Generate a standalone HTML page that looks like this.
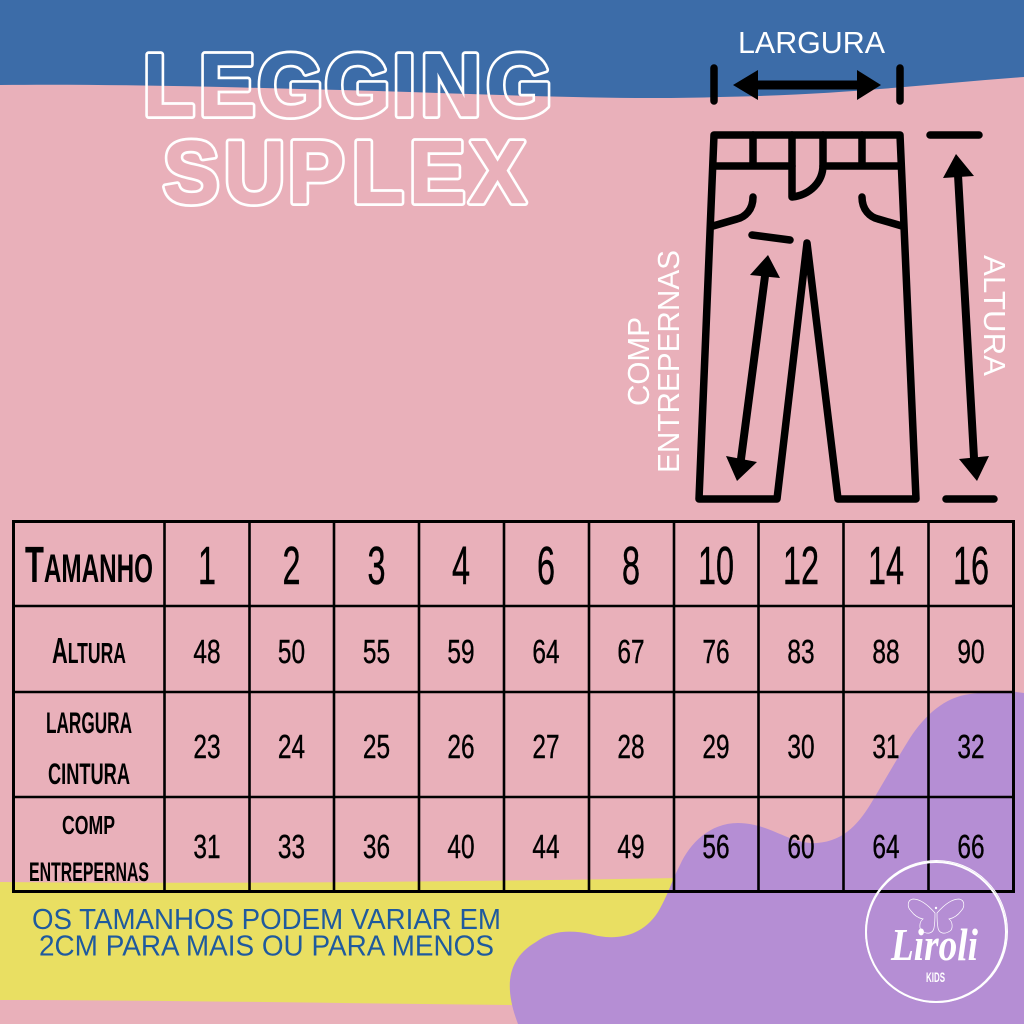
<!DOCTYPE html>
<html><head><meta charset="utf-8"><style>
html,body{margin:0;padding:0;background:#E9B0BA}
svg{display:block}
text{font-family:"Liberation Sans",sans-serif}
.h{font-size:54px;fill:#000;text-anchor:middle;stroke:#000;stroke-width:.5px}
.n{font-size:33px;fill:#000;text-anchor:middle;stroke:#000;stroke-width:.4px}
.l{font-weight:700;fill:#000}
.w{fill:#fff}
</style></head><body>
<svg width="1024" height="1024" viewBox="0 0 1024 1024" xmlns="http://www.w3.org/2000/svg">
<defs>
<mask id="ring" maskUnits="userSpaceOnUse" x="0" y="0" width="1024" height="300">
<g font-weight="700" font-size="88" stroke-linejoin="round" style="font-family:'Liberation Sans',sans-serif">
<text transform="scale(.96,1)" x="149 207.300 268.200 338 408.900 438 506.800" y="115.500" fill="#fff" stroke="#fff" stroke-width="7">LEGGING</text>
<text transform="scale(.96,1)" x="169.800 233.300 300 366.700 426 489" y="202.500" fill="#fff" stroke="#fff" stroke-width="7">SUPLEX</text>
<text transform="scale(.96,1)" x="149 207.300 268.200 338 408.900 438 506.800" y="115.500" fill="#000" stroke="#000" stroke-width="1.600">LEGGING</text>
<text transform="scale(.96,1)" x="169.800 233.300 300 366.700 426 489" y="202.500" fill="#000" stroke="#000" stroke-width="1.600">SUPLEX</text>
</g>
</mask>
</defs>
<rect width="1024" height="1024" fill="#E9B0BA"/>
<path d="M0 0H1024V77C930 84 840 95 720 97C600 101 450 92 300 89C190 86 90 84 0 85Z" fill="#3C6CA8"/>
<path d="M0 882C200 884 450 882 680 878L640 1006C420 1005 200 1000 0 1000Z" fill="#E9DF62"/>
<path d="M518 1024C505 990 505 960 536 942C552 930 572 930 590 934C610 940 640 940 658 912C668 895 672 880 680 865C690 843 710 823 738 823C770 823 790 845 817 843C845 841 860 822 873 800C885 780 895 762 910 738C925 715 945 697 970 694C990 691 1005 690 1024 693V1024Z" fill="#B58ED4"/>

<rect x="0" y="0" width="1024" height="300" fill="#fff" mask="url(#ring)"/>

<!-- pants -->
<g fill="none" stroke="#000" stroke-width="7.500" stroke-linecap="round" stroke-linejoin="round">
<path d="M714 135H900L916 499H838L807 243L777 499H699Z"/>
<path d="M716 166H792M823 166H898M753 135V166M862 135V166"/>
<path d="M792 135V197C810 195 823 182 823 165V135"/>
<path d="M753 197C753 210 745 217 737 219L713 226"/>
<path d="M862 197C862 210 870 217 878 219L902 226"/>
<path d="M752 235L790 240"/>
<path d="M714 68V101M900 68V101"/>
<path d="M930 135H979M946 499H994"/>
<path d="M958 175L974 458" stroke-width="8"/>
<path d="M765 276L741 459" stroke-width="8"/>
<path d="M757 85H858" stroke-width="9" stroke-linecap="butt"/>
</g>
<path d="M733 85L758 70V100ZM881 85L857 70V100ZM956 154L943 178L974 176ZM977 481L959 459L989 456ZM768 255L750 275L780 278ZM737 481L726 456L757 462Z" fill="#000"/>

<text class="w" x="738" y="53" font-size="31" textLength="147" lengthAdjust="spacingAndGlyphs">LARGURA</text>
<text class="w" transform="translate(649,406) rotate(-90)" font-size="31" textLength="89" lengthAdjust="spacingAndGlyphs">COMP</text>
<text class="w" transform="translate(679,473) rotate(-90)" font-size="31" textLength="223" lengthAdjust="spacingAndGlyphs">ENTREPERNAS</text>
<text class="w" transform="translate(984,255) rotate(90)" font-size="31" textLength="121" lengthAdjust="spacingAndGlyphs">ALTURA</text>

<!-- table -->
<g fill="none" stroke="#000">
<rect x="13.500" y="521.500" width="1000" height="370" stroke-width="3"/>
<path stroke-width="2.600" d="M164.500 521V891M249.500 521V891M334 521V891M419 521V891M504 521V891M589 521V891M674 521V891M758.500 521V891M843.500 521V891M928.500 521V891M13 606H1013M13 692H1013M13 797H1013"/>
</g>

<text class="l" x="25" y="582" font-size="40" textLength="128" lengthAdjust="spacingAndGlyphs"><tspan font-size="51">T</tspan>AMANHO</text>
<text class="l" x="52" y="663" font-size="29" textLength="74" lengthAdjust="spacingAndGlyphs"><tspan font-size="36">A</tspan>LTURA</text>
<text class="l" x="46" y="733" font-size="30" textLength="86" lengthAdjust="spacingAndGlyphs">LARGURA</text>
<text class="l" x="48" y="784" font-size="30" textLength="82" lengthAdjust="spacingAndGlyphs">CINTURA</text>
<text class="l" x="62" y="834" font-size="26" textLength="53" lengthAdjust="spacingAndGlyphs">COMP</text>
<text class="l" x="29" y="881" font-size="27" textLength="120" lengthAdjust="spacingAndGlyphs">ENTREPERNAS</text>

<g class="hdr">
<text class="h" transform="translate(207,584) scale(.6,1)">1</text>
<text class="h" transform="translate(291.500,584) scale(.6,1)">2</text>
<text class="h" transform="translate(376.500,584) scale(.6,1)">3</text>
<text class="h" transform="translate(461,584) scale(.6,1)">4</text>
<text class="h" transform="translate(546,584) scale(.6,1)">6</text>
<text class="h" transform="translate(631,584) scale(.6,1)">8</text>
<text class="h" transform="translate(716,584) scale(.6,1)">10</text>
<text class="h" transform="translate(801,584) scale(.6,1)">12</text>
<text class="h" transform="translate(886,584) scale(.6,1)">14</text>
<text class="h" transform="translate(971,584) scale(.6,1)">16</text>
</g>
<g>
<text class="n" transform="translate(207,663) scale(.74,1)">48</text>
<text class="n" transform="translate(291.500,663) scale(.74,1)">50</text>
<text class="n" transform="translate(376.500,663) scale(.74,1)">55</text>
<text class="n" transform="translate(461,663) scale(.74,1)">59</text>
<text class="n" transform="translate(546,663) scale(.74,1)">64</text>
<text class="n" transform="translate(631,663) scale(.74,1)">67</text>
<text class="n" transform="translate(716,663) scale(.74,1)">76</text>
<text class="n" transform="translate(801,663) scale(.74,1)">83</text>
<text class="n" transform="translate(886,663) scale(.74,1)">88</text>
<text class="n" transform="translate(971,663) scale(.74,1)">90</text>

<text class="n" transform="translate(207,758) scale(.74,1)">23</text>
<text class="n" transform="translate(291.500,758) scale(.74,1)">24</text>
<text class="n" transform="translate(376.500,758) scale(.74,1)">25</text>
<text class="n" transform="translate(461,758) scale(.74,1)">26</text>
<text class="n" transform="translate(546,758) scale(.74,1)">27</text>
<text class="n" transform="translate(631,758) scale(.74,1)">28</text>
<text class="n" transform="translate(716,758) scale(.74,1)">29</text>
<text class="n" transform="translate(801,758) scale(.74,1)">30</text>
<text class="n" transform="translate(886,758) scale(.74,1)">31</text>
<text class="n" transform="translate(971,758) scale(.74,1)">32</text>

<text class="n" transform="translate(207,858) scale(.74,1)">31</text>
<text class="n" transform="translate(291.500,858) scale(.74,1)">33</text>
<text class="n" transform="translate(376.500,858) scale(.74,1)">36</text>
<text class="n" transform="translate(461,858) scale(.74,1)">40</text>
<text class="n" transform="translate(546,858) scale(.74,1)">44</text>
<text class="n" transform="translate(631,858) scale(.74,1)">49</text>
<text class="n" transform="translate(716,858) scale(.74,1)">56</text>
<text class="n" transform="translate(801,858) scale(.74,1)">60</text>
<text class="n" transform="translate(886,858) scale(.74,1)">64</text>
<text class="n" transform="translate(971,858) scale(.74,1)">66</text>
</g>

<text x="32" y="929" font-size="29" fill="#1F5A9E" textLength="469" lengthAdjust="spacingAndGlyphs">OS TAMANHOS PODEM VARIAR EM</text>
<text x="39" y="955.500" font-size="29" fill="#1F5A9E" textLength="455" lengthAdjust="spacingAndGlyphs">2CM PARA MAIS OU PARA MENOS</text>

<!-- logo -->
<g fill="none" stroke="#fff">
<circle cx="936" cy="932" r="70" stroke-width="2"/>
<circle cx="936.500" cy="931.500" r="71" stroke-width="1"/>
<g stroke-width=".7">
<path d="M935 913C928 905 920 899 913 899C907 900 907 907 911 911C914 915 918 918 923 919C919 922 919 929 922 931C928 935 933 933 934 928C935 923 935 917 935 913Z"/>
<path d="M937 913C944 905 952 899 959 899C965 900 965 907 961 911C958 915 954 918 949 919C953 922 953 929 950 931C944 935 939 933 938 928C937 923 937 917 937 913Z"/>
</g>
</g>
<circle cx="936" cy="908" r="1.200" fill="#fff"/>
<text x="891" y="960" font-size="46" font-weight="700" font-style="italic" fill="#fff" textLength="87" lengthAdjust="spacingAndGlyphs" style="font-family:'Liberation Serif',serif">Liroli</text>
<text x="926" y="982" font-size="14" font-weight="700" fill="#fff" textLength="19" lengthAdjust="spacingAndGlyphs">KIDS</text>
</svg>
</body></html>
